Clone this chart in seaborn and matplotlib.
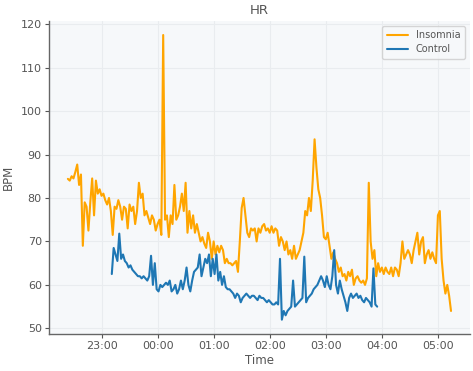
import matplotlib

matplotlib.use("Agg")
import matplotlib.dates as mdates
import matplotlib.pyplot as plt
import pandas as pd
import seaborn as sns

# Heart rate sampled every 2 minutes
insomnia_start = "2023-01-01 22:24"
insomnia_bpm = [
    84.4, 84, 85, 84.5, 86, 87.7, 83, 85.4, 69, 79,
    78, 72.5, 79, 84.5, 76, 84, 81, 82, 80.5, 81,
    79.5, 78.5, 80, 77, 71.5, 78, 77.5, 79.5, 78, 75,
    78, 77.5, 73, 78.5, 77, 78, 74, 77, 83.5, 80,
    81, 76, 77, 75.5, 74, 76, 75, 72.5, 74, 75,
    71.5, 117.5, 75, 76, 71, 76, 74, 83, 75, 76,
    78, 81, 77, 83.5, 72, 77, 73, 76, 72, 74,
    72, 70, 71, 69.5, 68.5, 72, 70, 66, 70, 67,
    69, 67.5, 69, 68, 65, 66, 65, 65, 64.5, 65,
    65.5, 63, 70, 77.7, 80, 76, 72, 71, 73, 72.5,
    73, 70, 73, 72, 73.5, 74, 72.5, 73, 72, 73.5,
    72, 73, 72.5, 69, 71, 70, 68, 70, 67, 68,
    66, 69, 66, 67, 68, 70, 72, 77, 76, 80,
    77, 84, 93.5, 87, 82, 80, 76, 71, 70.5, 72,
    69, 66, 67.5, 66, 65, 63, 64, 62, 62.5, 61,
    63, 62, 63.5, 60, 61.5, 62, 61, 60.5, 61, 60,
    61.5, 83.5, 70, 66, 68, 62, 65, 63, 64, 62.5,
    64, 63, 62.5, 64, 62, 64, 63.5, 62, 65, 70,
    66, 67, 68, 67, 65, 68, 70, 72, 67, 70,
    71, 65, 67, 68, 66, 67.5, 66, 65, 76, 77,
    66, 61, 58, 60, 57.5, 54,
]

control_start = "2023-01-01 23:11"
control_bpm = [
    62.5, 68.5, 67, 65.5, 71.8, 66, 67, 65.5, 65, 64,
    64.5, 63.5, 63, 62.5, 62, 62, 61.5, 62, 61.5, 61,
    62, 66.7, 60, 65, 59, 58.5, 60, 59.5, 60, 60.5,
    60, 61, 58.5, 59, 60, 58, 59, 61, 59, 61,
    64, 60, 58.5, 61, 63, 63.5, 64, 67, 62, 64,
    66, 65, 67, 62, 66, 62.5, 67, 61, 63, 60,
    62, 59.5, 59, 59, 58.5, 58, 57, 58, 57.5, 56,
    57, 57.5, 58, 57.5, 57, 57.5, 57.5, 57, 56.5, 57.5,
    57, 57, 56.5, 56, 56.5, 56, 55.5, 55.5, 56, 55.5,
    66, 52, 54, 53, 54, 54.5, 55, 61, 55, 55.5,
    56, 56.5, 57, 66.5, 56, 57, 57.5, 58, 59, 59.5,
    60, 61, 62, 61, 59.5, 62, 60, 59, 62, 68,
    60, 58, 61, 59, 57.5, 56, 54, 57, 58, 57,
    57.5, 58, 57, 57.5, 56.5, 56, 57, 56.5, 56, 55,
    63.8, 55.5, 55,
]

df_ins = pd.DataFrame({
    "Time": pd.date_range(insomnia_start, periods=len(insomnia_bpm), freq="2min"),
    "BPM": insomnia_bpm,
    "group": "Insomnia",
})
df_ctl = pd.DataFrame({
    "Time": pd.date_range(control_start, periods=len(control_bpm), freq="2min"),
    "BPM": control_bpm,
    "group": "Control",
})
df = pd.concat([df_ins, df_ctl], ignore_index=True)

text_color = "#555555"
sns.set_theme(style="whitegrid", rc={
    "axes.facecolor": "#f6f8fa",
    "grid.color": "#e9ecef",
    "grid.linewidth": 0.8,
    "axes.edgecolor": "#666666",
    "xtick.color": text_color,
    "ytick.color": text_color,
    "axes.labelcolor": text_color,
    "text.color": text_color,
    "xtick.bottom": True,
    "ytick.left": True,
})
plt.rcParams["font.family"] = ["DejaVu Sans"]

fig, ax = plt.subplots(figsize=(4.73, 3.71), dpi=100)
fig.subplots_adjust(left=0.103, right=0.994, bottom=0.1, top=0.944)

sns.lineplot(
    data=df, x="Time", y="BPM", hue="group", ax=ax,
    palette={"Insomnia": "#FFA500", "Control": "#1f77b4"},
    linewidth=1.5,
)

ax.set_title("HR", fontsize=9.5, color=text_color, pad=5)
ax.set_xlabel("Time", fontsize=8.5, labelpad=2)
ax.set_ylabel("BPM", fontsize=8.5)
ax.xaxis.set_major_locator(mdates.HourLocator())
ax.xaxis.set_major_formatter(mdates.DateFormatter("%H:%M"))
ax.set_yticks(range(50, 121, 10))
ax.tick_params(labelsize=8, length=3, width=0.8, pad=2)

for side in ["top", "right"]:
    ax.spines[side].set_visible(False)
for side in ["left", "bottom"]:
    ax.spines[side].set_linewidth(1.0)

ax.legend(loc="upper right", fontsize=7, title=None, frameon=True,
          handlelength=2.2, borderpad=0.5, labelspacing=0.4)

fig.savefig("out.png", dpi=100)
